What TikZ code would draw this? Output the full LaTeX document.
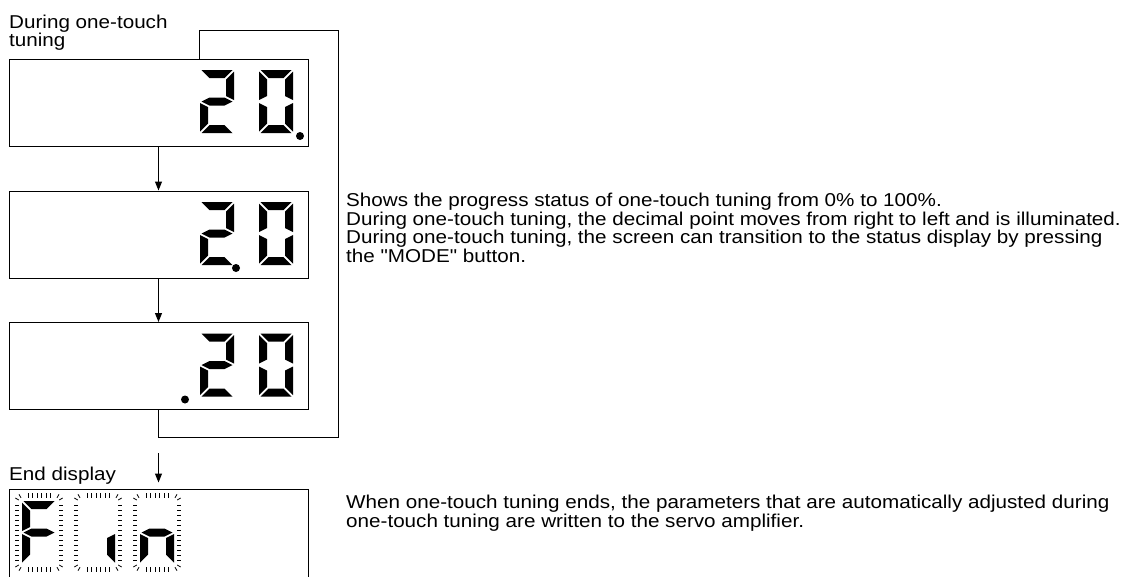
\documentclass[tikz,border=0pt]{standalone}
\usepackage{fontspec}
\setmainfont{Liberation Sans}[Ligatures=TeXOff,FakeStretch=1.11]
\usetikzlibrary{arrows.meta}

\begin{document}
\begin{tikzpicture}[x=1pt,y=-1pt,
  dispbox/.style={draw,line width=1pt,minimum width=299pt,minimum height=87pt,inner sep=0pt},
  flow/.style={line width=1pt,-{Triangle[length=9pt,width=7pt]}},
  note/.style={anchor=north west,inner sep=0pt,align=left,
    font={\fontsize{18.6}{18.5}\selectfont\lineskiplimit-50pt\relax}},
  seg/a/.style={insert path={(1.5,0) -- (32.5,0) -- (24.5,8) -- (9.5,8) -- cycle}},
  seg/b/.style={insert path={(34,1.5) -- (34,30) -- (26,26) -- (26,9.5) -- cycle}},
  seg/c/.style={insert path={(34,33) -- (34,61.5) -- (26,53.5) -- (26,37) -- cycle}},
  seg/d/.style={insert path={(1.5,63) -- (32.5,63) -- (24.5,55) -- (9.5,55) -- cycle}},
  seg/e/.style={insert path={(0,33) -- (8,37) -- (8,53.5) -- (0,61.5) -- cycle}},
  seg/f/.style={insert path={(0,1.5) -- (8,9.5) -- (8,26) -- (0,30) -- cycle}},
  seg/g/.style={insert path={(1.5,31.5) -- (9.5,27.5) -- (24.5,27.5) -- (32.5,31.5) -- (24.5,35.5) -- (9.5,35.5) -- cycle}},
  pics/digit/.style={code={\foreach \s in {#1} \fill[seg/\s];}},
  pics/blink/.style={code={
    \foreach \x in {6,10.5,15,19.5,24,28.5} \draw[line width=0.8pt] (\x,-8) -- (\x,-3) (\x,66) -- (\x,71);
    \foreach \y in {4,9,...,59} \draw[line width=0.8pt] (-7,\y) -- (-3,\y) (37,\y) -- (41,\y);
    \foreach \sx/\sy in {1/1,-1/1,1/-1,-1/-1}
      \draw[line width=0.8pt,shift={(17,31.5)},xscale=\sx,yscale=\sy] (-18,-34.7) -- (-20,-38.2) (-20.2,-32.5) -- (-23.7,-34.5);
  }}]
  \useasboundingbox (0,0) rectangle (1130,576);

  % display boxes, the last one runs off the bottom
  \node[dispbox] (disp1) at (158.5,102.5) {};
  \node[dispbox] (disp2) at (158.5,234.5) {};
  \node[dispbox] (disp3) at (158.5,366) {};
  \node[dispbox,minimum height=111pt] (disp4) at (158.5,544.5) {};

  % 20. -> 2.0 -> .20
  \pic at (200,70) {digit={a,b,g,e,d}};
  \pic at (259,70) {digit={a,b,c,d,e,f}};
  \fill (300,136) circle (4);
  \pic at (200,202) {digit={a,b,g,e,d}};
  \pic at (259,202) {digit={a,b,c,d,e,f}};
  \fill (236,268) circle (4);
  \pic at (200,333.5) {digit={a,b,g,e,d}};
  \pic at (259,333.5) {digit={a,b,c,d,e,f}};
  \fill (185,399.5) circle (4);

  % end display: Fin, blinking
  \foreach \x in {22,81,140} \pic at (\x,501) {blink};
  \pic at (22,501) {digit={a,f,g,e}};
  \pic at (81,501) {digit={c}};
  \pic at (140,501) {digit={g,e,c}};

  % connectors
  \draw[flow] (disp1) -- (disp2);
  \draw[flow] (disp2) -- (disp3);
  \coordinate (loopbr) at (338.5,437);
  \coordinate (looptr) at (338.5,30);
  \draw[line width=1pt] (disp3.south) |- (loopbr) -- (looptr) -| ([xshift=40.5pt]disp1.north);
  \coordinate (endtop) at (158.5,453);
  \draw[flow] (endtop) -- ([yshift=6pt]disp4.north);

  % texts
  \node[note] (lbl1) at (9,14.5) {During one-touch\\tuning};
  \node[note] (lbl2) at (9,466.5) {End display};
  \node[note] (txt1) at (346,193) {Shows the progress status of one-touch tuning from 0\% to 100\%.\\
    During one-touch tuning, the decimal point moves from right to left and is illuminated.\\
    During one-touch tuning, the screen can transition to the status display by pressing\\
    the "MODE" button.};
  \node[note] (txt2) at (346,495) {When one-touch tuning ends, the parameters that are automatically adjusted during\\
    one-touch tuning are written to the servo amplifier.};
\end{tikzpicture}
\end{document}
